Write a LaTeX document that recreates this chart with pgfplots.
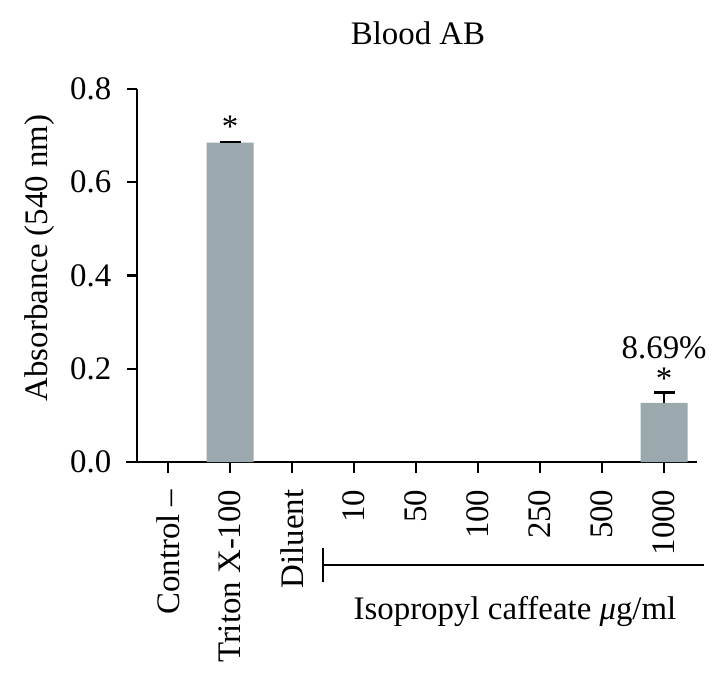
\documentclass[border=0pt]{standalone}
\usepackage{pgfplots}
\pgfplotsset{compat=1.18}
\usepackage{fontspec}
\setmainfont{Liberation Serif}
\definecolor{barcol}{RGB}{155,168,174}

\begin{document}
\begin{tikzpicture}
\fontsize{33}{38}\selectfont
\useasboundingbox (0,0) rectangle (725bp,-682bp);
\begin{axis}[
    at={(137bp,-462bp)}, anchor=south west,
    scale only axis,
    width=560bp, height=373bp,
    xmin=-0.5, xmax=8.53,
    ymin=0, ymax=0.8,
    axis x line=bottom, axis y line=left,
    axis line style={-, line width=2.3bp},
    tick align=outside,
    major tick length=10.5bp,
    tick style={line width=2.3bp, black},
    xtick={0,...,8},
    xticklabels={Control --, Triton X-100, Diluent, 10, 50, 100, 250, 500, 1000},
    xticklabel style={rotate=90, anchor=east, font=\fontsize{33}{38}\selectfont},
    xticklabel shift=6bp,
    ytick={0,0.2,0.4,0.6,0.8},
    yticklabel style={font=\fontsize{33}{38}\selectfont, /pgf/number format/.cd, fixed, fixed zerofill, precision=1},
    yticklabel shift=4bp,
    /pgf/number format/assume math mode=true,
    clip=false,
]
\addplot[ybar, bar width=47bp, fill=barcol, draw=none,
    error bars/.cd, y dir=plus, y explicit,
    error bar style={line width=2.3bp, black},
    error mark options={rotate=90, mark size=10.5bp, line width=2.3bp, black}]
    coordinates {(1,0.685) +- (0,0.002) (8,0.127) +- (0,0.022)};
\draw[line width=2.3bp] (axis cs:-0.68,0) -- (axis cs:-0.5,0);
\node at (axis cs:1,0.719) {*};
\node at (axis cs:8,0.178) {*};
\node at (axis cs:8,0.245) {8.69\%};
\end{axis}
\node at (418bp,-33bp) {Blood AB};
\node[rotate=90] at (40bp,-258bp) {Absorbance (540 nm)};
\draw[line width=2.3bp] (323bp,-548bp) -- (323bp,-582bp);
\draw[line width=2.3bp] (323bp,-565bp) -- (704bp,-565bp);
\node at (515bp,-611bp) {Isopropyl caffeate \textit{μ}g/ml};
\end{tikzpicture}
\end{document}
